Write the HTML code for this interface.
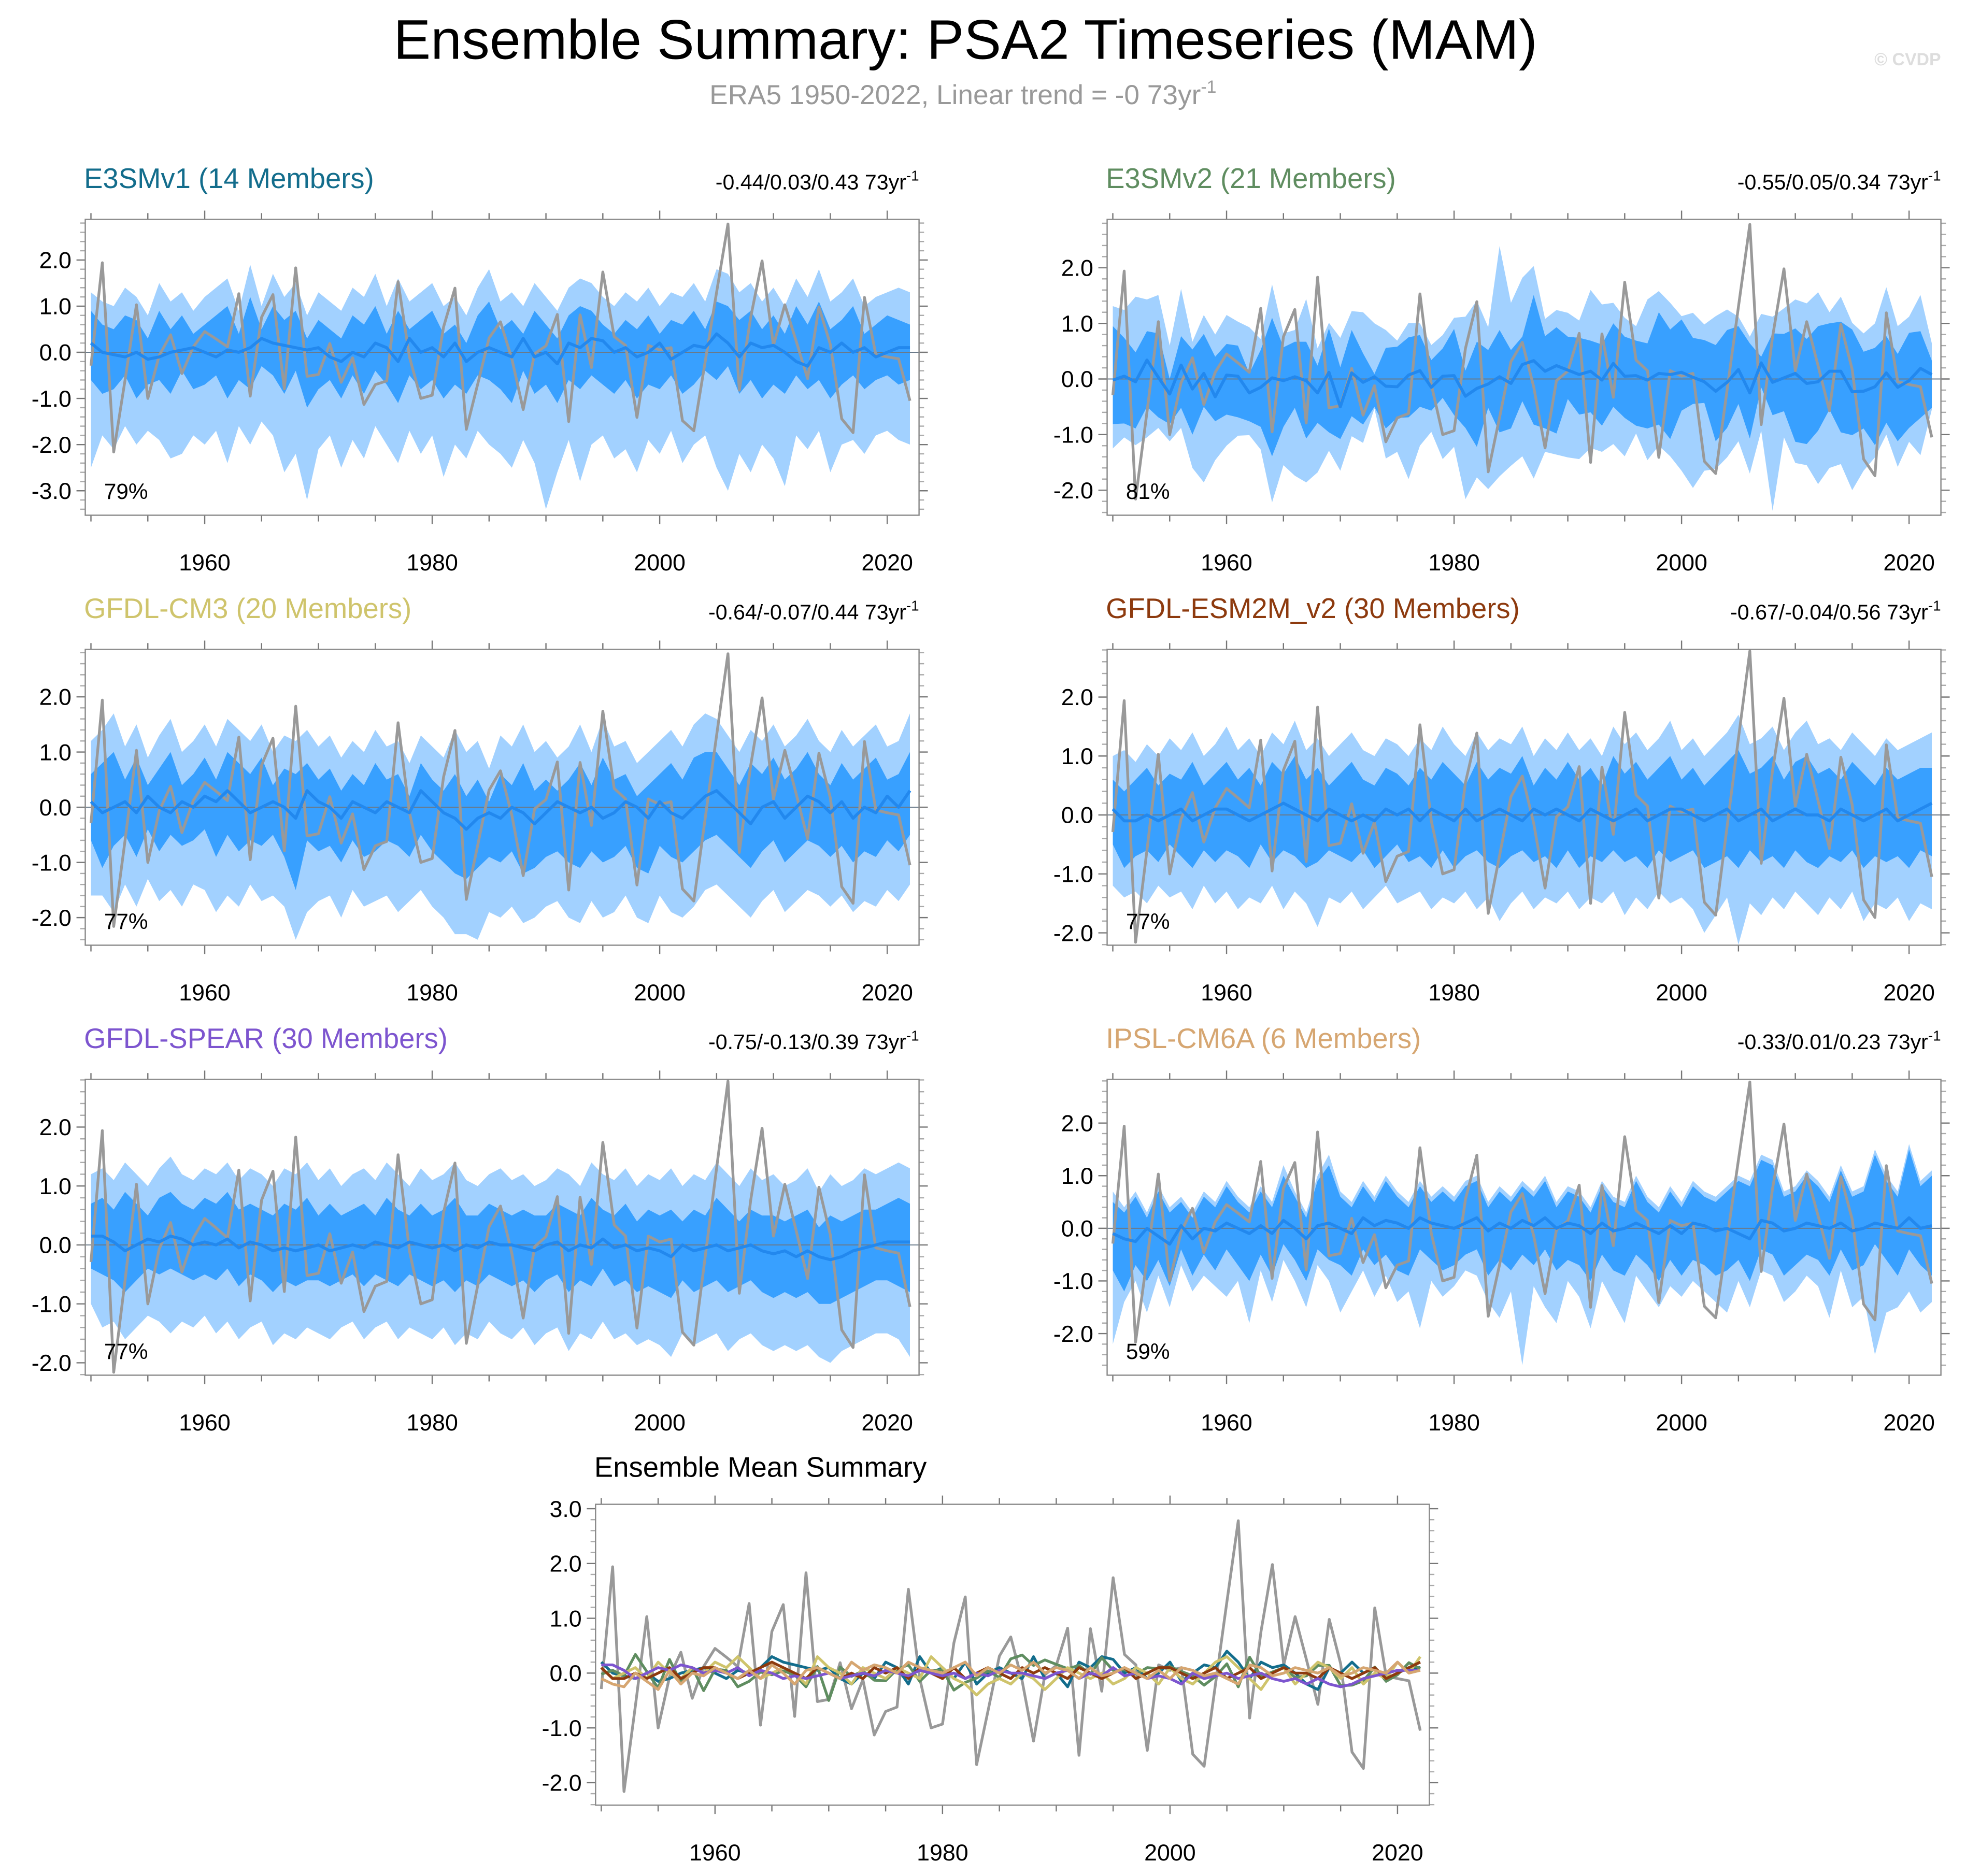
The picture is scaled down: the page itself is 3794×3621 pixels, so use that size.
<!DOCTYPE html>
<html><head><meta charset="utf-8"><title>Ensemble Summary: PSA2 Timeseries (MAM)</title>
<style>html,body{margin:0;padding:0;background:#fff;}svg{display:block;font-family:"Liberation Sans",Arial,sans-serif;}</style>
</head><body>
<svg id="chart" xmlns="http://www.w3.org/2000/svg" width="3794" height="3621" viewBox="0 0 1568 1496.5" preserveAspectRatio="none">
<rect x="0" y="0" width="1568" height="1496.5" fill="#fff"/>
<text x="770" y="47" font-size="44.5" text-anchor="middle" fill="#000">Ensemble Summary: PSA2 Timeseries (MAM)</text>
<text x="768" y="83" font-size="22" text-anchor="middle" fill="#999">ERA5 1950-2022, Linear trend = -0 73yr<tspan dy="-9" font-size="14">-1</tspan></text>
<text x="1548" y="52" font-size="14" font-weight="bold" text-anchor="end" fill="#ddd">© CVDP</text>
<g id="plots"></g>
</svg>
<script>
const years = [1950,2022];
const obs = [-0.29,1.94,-2.16,-0.6,1.03,-1.0,-0.07,0.38,-0.46,0.12,
0.45,0.29,0.12,1.27,-0.95,0.76,1.25,-0.79,1.83,-0.52,
-0.48,0.19,-0.65,-0.12,-1.13,-0.7,-0.62,1.53,-0.1,-1.0,
-0.93,0.55,1.39,-1.67,-0.69,0.31,0.66,-0.14,-1.24,-0.03,
0.14,0.82,-1.5,0.81,-0.33,1.74,0.34,0.15,-1.41,0.15,
0.05,0.1,-1.48,-1.7,-0.2,1.3,2.78,-0.82,0.76,1.98,
0.15,1.03,0.24,-0.57,0.98,0.17,-1.44,-1.74,1.19,-0.05,
-0.1,-0.14,-1.05];

// E3SMv1
const e1Mean = [0.2,0.0,-0.05,-0.1,0.0,-0.15,-0.1,0.0,0.05,0.1,
0.0,-0.1,0.05,0.0,0.1,0.3,0.2,0.15,0.1,0.05,
0.1,-0.1,-0.2,0.0,-0.1,0.2,0.1,-0.2,0.3,0.0,
0.1,-0.1,0.2,-0.2,0.0,0.1,0.0,-0.1,0.3,-0.1,
0.0,-0.25,0.2,0.1,0.3,0.25,0.0,0.1,-0.1,0.0,
0.2,-0.15,0.0,0.15,0.1,0.4,0.2,-0.1,0.2,0.1,
0.15,0.0,-0.2,-0.3,0.1,0.0,0.2,0.0,0.1,-0.1,
0.0,0.1,0.1];
const e1Hi2 = [1.3,1.1,1.0,1.4,1.2,0.8,1.5,1.1,1.3,0.9,
1.2,1.4,1.6,0.9,1.9,1.0,1.7,1.2,1.5,0.8,
1.3,1.1,0.9,1.4,1.2,1.7,1.0,1.6,1.1,1.3,
1.5,1.0,1.2,0.8,1.4,1.8,1.1,1.3,1.0,1.5,
1.2,0.9,1.4,1.6,1.5,1.2,1.0,1.3,1.1,1.4,
1.0,1.3,1.2,1.5,1.1,1.8,1.7,1.3,1.5,1.1,
1.4,1.0,1.6,1.2,1.8,1.1,1.3,1.6,1.0,1.2,
1.3,1.4,1.3];
const e1Hi1 = [0.9,0.6,0.5,0.8,0.7,0.3,0.9,0.5,0.8,0.4,
0.6,0.8,1.0,0.4,1.2,0.5,1.0,0.7,0.9,0.3,
0.7,0.5,0.3,0.8,0.6,1.0,0.4,0.9,0.5,0.7,
0.9,0.4,0.6,0.2,0.8,1.1,0.5,0.7,0.4,0.9,
0.6,0.3,0.8,1.0,0.9,0.6,0.4,0.7,0.5,0.8,
0.4,0.7,0.6,0.9,0.5,1.1,1.0,0.7,0.9,0.5,
0.8,0.4,1.0,0.6,1.1,0.5,0.7,1.0,0.4,0.6,
0.8,0.7,0.6];
const e1Lo1 = [-0.6,-0.9,-0.8,-0.5,-1.0,-0.7,-0.6,-0.9,-0.4,-0.8,
-0.7,-0.5,-1.0,-0.6,-0.8,-0.3,-0.5,-0.9,-0.4,-1.2,
-0.8,-0.6,-1.0,-0.5,-0.9,-0.4,-0.7,-1.1,-0.5,-0.8,
-0.6,-1.0,-0.7,-0.9,-0.5,-0.6,-0.8,-1.1,-0.4,-0.9,
-0.7,-1.1,-0.6,-0.8,-0.5,-0.7,-0.9,-0.6,-1.0,-0.7,
-0.8,-0.5,-0.9,-0.7,-0.4,-0.6,-0.3,-0.9,-0.6,-1.0,
-0.7,-0.9,-0.5,-0.8,-0.6,-1.0,-0.7,-0.5,-0.8,-0.6,
-0.5,-0.7,-0.6];
const e1Lo2 = [-2.5,-1.8,-2.1,-1.6,-2.0,-1.7,-1.9,-2.3,-2.2,-1.8,
-2.0,-1.7,-2.4,-1.6,-2.0,-1.5,-1.8,-2.6,-2.2,-3.2,
-2.1,-1.8,-2.5,-1.9,-2.3,-1.6,-2.0,-2.4,-1.7,-2.2,
-1.8,-2.7,-2.0,-2.3,-1.7,-2.0,-2.2,-2.5,-1.9,-2.4,
-3.4,-2.6,-1.9,-2.8,-2.0,-1.8,-2.3,-2.1,-2.6,-1.9,
-2.2,-1.7,-2.4,-2.0,-1.8,-2.5,-3.0,-2.2,-2.6,-2.0,
-2.3,-2.9,-1.8,-2.1,-1.7,-2.6,-2.0,-1.9,-2.2,-1.8,
-1.7,-1.9,-2.0];

// E3SMv2
const e2Mean = [-0.02,0.05,-0.05,0.34,0.03,-0.27,0.25,-0.18,0.1,-0.32,
0.07,0.05,-0.25,-0.15,0.02,-0.03,0.04,-0.03,-0.25,0.12,
-0.5,0.11,-0.06,0.04,-0.13,-0.14,0.07,0.15,-0.15,0.05,
0.06,-0.31,-0.17,-0.09,0.04,-0.08,0.26,0.33,0.14,0.24,
0.16,0.08,0.14,-0.02,0.28,0.05,0.06,-0.02,0.1,0.08,
0.12,0.03,-0.05,-0.22,-0.06,0.17,-0.25,0.29,-0.06,0.02,
0.1,-0.08,-0.05,0.14,0.14,-0.23,-0.22,-0.14,0.11,-0.15,
-0.03,0.19,0.08];
const e2Hi2 = [1.31,1.24,1.48,1.43,1.51,0.6,1.62,0.67,1.15,0.8,
1.15,1.03,0.93,0.72,1.7,0.82,0.88,1.44,0.55,1.01,
0.74,1.22,1.2,1.0,0.88,0.69,1.01,1.0,0.61,0.79,
1.1,1.12,1.41,0.93,2.39,1.37,1.82,2.03,1.08,1.24,
1.19,1.05,1.6,1.34,1.37,1.1,0.95,1.43,1.58,1.37,
1.13,1.19,0.98,1.13,1.25,1.12,0.76,1.17,1.12,1.27,
1.43,1.36,1.56,1.2,1.48,1.01,0.82,1.0,1.65,0.95,
1.12,1.51,0.64];
const e2Hi1 = [0.95,0.74,0.48,0.86,0.82,0.0,0.77,0.53,0.81,0.4,
0.63,0.6,0.1,0.52,1.1,0.57,0.67,0.67,0.24,0.91,
0.21,0.88,0.46,0.09,0.56,0.58,0.75,0.79,0.34,0.55,
0.9,0.15,0.67,0.52,0.88,0.52,0.76,1.51,0.77,0.93,
0.76,0.74,0.69,0.62,1.0,0.76,0.69,0.64,1.2,0.89,
1.07,0.74,0.7,0.61,0.88,0.95,0.64,0.4,0.82,0.81,
0.91,0.72,0.95,1.0,1.03,0.89,0.49,0.56,0.77,0.45,
0.83,0.86,0.33];
const e2Lo1 = [-0.81,-0.8,-0.89,-0.5,-0.69,-0.81,-0.52,-1.0,-0.5,-0.76,
-0.64,-0.69,-0.76,-0.86,-1.39,-0.86,-0.52,-1.07,-0.79,-0.96,
-1.08,-0.67,-0.82,-0.5,-0.89,-0.7,-0.69,-0.5,-0.57,-0.34,
-0.65,-0.88,-1.22,-0.52,-0.96,-0.89,-0.4,-0.82,-0.89,-0.98,
-0.36,-0.64,-0.6,-0.84,-0.5,-0.7,-0.84,-0.89,-0.82,-1.08,
-0.57,-0.45,-0.43,-1.12,-0.88,-0.45,-1.07,-0.15,-0.65,-0.58,
-1.13,-1.17,-0.93,-0.55,-0.96,-1.01,-0.89,-1.19,-0.79,-1.12,
-0.88,-0.7,-0.52];
const e2Lo2 = [-1.25,-1.05,-1.19,-1.05,-0.88,-1.12,-0.88,-1.6,-1.86,-1.46,
-1.2,-1.02,-1.01,-1.27,-2.22,-1.55,-1.74,-1.86,-1.68,-1.29,
-1.65,-1.03,-1.15,-0.53,-1.43,-1.31,-1.8,-1.2,-0.95,-1.44,
-1.22,-2.16,-1.77,-1.98,-1.75,-1.56,-1.39,-1.79,-1.31,-1.36,
-1.41,-1.44,-1.24,-1.31,-1.17,-1.39,-0.98,-1.46,-1.2,-1.39,
-1.65,-1.96,-1.65,-1.62,-1.41,-1.12,-1.7,-0.93,-2.37,-1.05,
-1.51,-1.55,-1.89,-1.6,-1.53,-2.0,-1.65,-1.41,-1.0,-1.58,
-1.13,-1.37,-0.55];

// GFDL-CM3
const c3Mean = [0.1,-0.1,0.0,0.1,-0.1,0.2,0.0,-0.1,0.1,0.0,
0.2,0.1,0.3,0.1,-0.1,0.0,0.1,0.0,-0.2,0.3,
0.1,0.0,-0.2,0.1,0.0,-0.1,0.1,0.0,-0.1,0.3,
0.1,-0.1,-0.2,-0.4,-0.2,-0.1,-0.2,0.0,-0.1,-0.3,
-0.1,0.1,0.0,-0.1,0.0,-0.2,-0.1,0.1,0.0,-0.2,
0.1,-0.1,-0.2,0.0,0.2,0.3,0.1,-0.1,-0.3,0.0,
0.1,-0.2,0.0,0.2,0.1,-0.1,0.1,-0.2,0.0,-0.1,
0.2,0.0,0.3];
const c3Hi2 = [1.2,1.4,1.7,1.1,1.5,0.9,1.3,1.6,1.0,1.2,
1.5,1.1,1.6,1.4,1.2,1.5,1.0,1.3,1.2,1.4,
1.1,1.3,0.9,1.2,1.0,1.4,1.1,1.2,0.8,1.3,
1.1,0.9,1.4,1.0,1.2,0.7,1.3,1.1,1.5,1.0,
1.2,0.9,1.1,1.5,1.0,1.6,1.1,1.2,0.8,1.0,
1.2,1.4,1.1,1.5,1.7,1.6,1.3,1.0,1.4,1.2,
1.5,1.1,1.3,1.6,1.2,1.0,1.4,1.1,1.3,1.5,
1.1,1.2,1.7];
const c3Hi1 = [0.6,0.8,1.0,0.5,0.9,0.4,0.7,1.0,0.4,0.6,
0.9,0.5,1.0,0.8,0.6,0.9,0.4,0.7,0.6,0.8,
0.5,0.7,0.3,0.6,0.4,0.8,0.5,0.6,0.2,0.8,
0.5,0.3,0.6,0.2,0.5,0.1,0.6,0.4,0.8,0.3,
0.5,0.3,0.5,0.8,0.4,0.9,0.5,0.6,0.2,0.4,
0.6,0.8,0.5,0.9,1.0,1.0,0.7,0.4,0.8,0.6,
0.9,0.5,0.7,1.0,0.6,0.4,0.8,0.5,0.7,0.9,
0.5,0.6,1.0];
const c3Lo1 = [-0.6,-1.1,-0.7,-0.5,-0.9,-0.4,-0.8,-0.5,-0.7,-0.6,
-0.4,-0.9,-0.5,-0.8,-0.6,-0.7,-0.5,-0.9,-1.5,-0.6,
-0.8,-0.7,-1.0,-0.6,-0.9,-0.8,-0.6,-0.7,-0.9,-0.5,
-0.8,-1.0,-1.2,-1.3,-1.1,-0.9,-1.0,-0.8,-1.2,-1.1,
-0.9,-0.8,-1.0,-1.1,-0.8,-1.0,-0.9,-0.7,-1.1,-1.2,
-0.7,-0.9,-1.0,-0.8,-0.6,-0.5,-0.7,-0.9,-1.1,-0.8,
-0.6,-1.0,-0.8,-0.6,-0.7,-0.9,-0.7,-1.0,-0.8,-0.9,
-0.6,-0.8,-0.5];
const c3Lo2 = [-1.6,-1.6,-1.9,-1.4,-1.8,-1.3,-1.7,-1.5,-1.8,-1.4,
-1.5,-1.9,-1.6,-1.8,-1.4,-1.7,-1.6,-1.8,-2.4,-1.9,
-1.7,-1.6,-2.0,-1.5,-1.8,-1.7,-1.6,-1.9,-1.7,-1.5,
-1.8,-2.0,-2.3,-2.3,-2.4,-1.9,-2.0,-1.8,-2.1,-2.0,
-1.8,-1.7,-2.0,-2.1,-1.7,-2.0,-1.9,-1.6,-2.0,-2.1,
-1.6,-1.9,-2.0,-1.8,-1.5,-1.4,-1.6,-1.8,-2.0,-1.7,
-1.5,-1.9,-1.7,-1.5,-1.6,-1.8,-1.6,-1.9,-1.7,-1.8,
-1.5,-1.7,-1.4];

// GFDL-ESM2M_v2
const m2Mean = [0.1,-0.1,-0.1,0.0,-0.1,0.0,0.1,-0.1,0.0,0.1,
0.1,0.0,-0.1,0.0,0.1,0.2,0.1,0.0,-0.1,0.1,
0.0,-0.1,0.0,-0.1,0.1,0.0,0.1,-0.1,0.1,0.0,
-0.1,0.1,-0.1,0.0,0.1,0.0,-0.1,0.1,0.0,0.1,
0.0,-0.1,0.1,0.0,-0.1,0.0,0.1,-0.1,0.0,0.1,
0.1,0.0,-0.1,0.0,0.1,-0.1,0.0,0.1,-0.1,0.0,
0.1,0.0,0.0,-0.1,0.1,0.0,-0.1,0.0,0.1,-0.1,
0.0,0.1,0.2];
const m2Hi2 = [1.0,1.1,0.9,1.2,1.0,1.3,1.1,1.4,1.0,1.2,
1.5,1.1,1.3,1.0,1.4,1.2,1.6,1.1,1.3,1.0,
1.2,1.4,1.1,1.0,1.3,1.2,1.0,1.3,1.1,1.5,
1.2,1.0,1.4,1.1,1.3,1.2,1.5,1.0,1.3,1.1,
1.4,1.1,1.3,1.0,1.5,1.2,1.4,1.1,1.3,1.6,
1.1,1.3,1.0,1.2,1.4,1.7,1.2,1.3,1.5,1.1,
1.4,1.6,1.2,1.3,1.1,1.4,1.2,1.0,1.3,1.1,
1.2,1.3,1.4];
const m2Hi1 = [0.6,0.4,0.6,0.8,0.5,0.7,0.6,0.9,0.5,0.7,
0.9,0.6,0.8,0.5,0.9,0.7,1.0,0.6,0.8,0.5,
0.7,0.9,0.6,0.5,0.8,0.7,0.5,0.8,0.6,0.9,
0.7,0.5,0.9,0.6,0.8,0.7,1.0,0.5,0.8,0.6,
0.9,0.6,0.8,0.5,1.0,0.7,0.9,0.6,0.8,1.0,
0.6,0.8,0.5,0.7,0.9,1.1,0.7,0.8,1.0,0.6,
0.9,1.0,0.7,0.8,0.6,0.9,0.7,0.5,0.8,0.6,
0.7,0.8,0.8];
const m2Lo1 = [-0.5,-0.9,-0.7,-0.6,-0.8,-0.5,-0.7,-0.9,-0.6,-0.8,
-0.6,-0.7,-0.9,-0.5,-0.8,-0.6,-0.7,-0.9,-0.8,-0.6,
-0.7,-0.8,-0.6,-0.9,-0.7,-0.5,-0.8,-0.7,-0.9,-0.6,
-0.9,-0.7,-0.6,-0.8,-0.9,-0.7,-0.6,-0.8,-0.7,-0.9,
-0.6,-0.9,-0.7,-0.8,-0.6,-0.8,-0.7,-0.9,-0.6,-0.8,
-0.7,-0.6,-0.9,-0.8,-0.7,-0.9,-0.6,-0.8,-0.7,-0.9,
-0.6,-0.8,-0.9,-0.7,-0.8,-0.6,-0.9,-0.7,-0.8,-0.7,
-0.9,-0.6,-0.7];
const m2Lo2 = [-1.2,-1.4,-1.3,-1.5,-1.2,-1.4,-1.3,-1.6,-1.2,-1.5,
-1.3,-1.6,-1.4,-1.5,-1.2,-1.6,-1.3,-1.5,-1.9,-1.4,
-1.5,-1.3,-1.6,-1.4,-1.2,-1.5,-1.4,-1.3,-1.6,-1.4,
-1.5,-1.3,-1.6,-1.4,-1.8,-1.5,-1.3,-1.6,-1.4,-1.5,
-1.3,-1.6,-1.4,-1.5,-1.3,-1.7,-1.4,-1.6,-1.3,-1.5,
-1.4,-1.6,-2.0,-1.7,-1.4,-2.2,-1.5,-1.7,-1.4,-1.6,
-1.3,-1.5,-1.7,-1.4,-1.6,-1.3,-1.8,-1.5,-1.6,-1.4,
-1.8,-1.5,-1.6];

// GFDL-SPEAR
const spMean = [0.15,0.15,0.05,-0.1,0.0,0.1,0.05,0.15,0.1,0.0,
0.05,0.0,0.1,-0.05,0.05,0.0,-0.1,-0.05,-0.1,-0.05,
0.0,-0.1,-0.05,0.0,-0.05,0.05,0.0,-0.05,0.05,0.0,
-0.05,0.0,-0.1,0.0,-0.05,0.05,0.0,0.0,-0.05,-0.1,
0.0,0.05,-0.1,0.0,-0.05,0.1,-0.05,0.0,-0.1,-0.05,
-0.1,-0.2,0.0,-0.1,-0.05,0.0,-0.1,-0.05,0.0,-0.1,
-0.15,-0.1,-0.2,-0.1,-0.2,-0.25,-0.2,-0.1,-0.05,0.0,
0.05,0.05,0.05];
const spHi2 = [1.2,1.3,1.1,1.4,1.2,1.0,1.3,1.5,1.2,1.1,
1.3,1.2,1.4,1.1,1.3,1.2,1.0,1.3,1.2,1.4,
1.1,1.3,1.0,1.2,1.3,1.1,1.4,1.2,1.0,1.3,
1.1,1.2,1.4,1.1,1.0,1.2,1.3,1.1,1.2,1.0,
1.1,1.3,1.2,1.0,1.4,1.2,1.1,1.3,1.0,1.2,
1.1,1.3,1.0,1.2,1.1,1.4,1.2,1.0,1.3,1.1,
1.2,1.0,1.1,1.3,0.9,1.2,1.0,1.1,1.3,1.2,
1.3,1.4,1.3];
const spHi1 = [0.7,0.8,0.6,0.9,0.7,0.5,0.8,0.9,0.7,0.6,
0.8,0.7,0.9,0.6,0.7,0.6,0.5,0.7,0.6,0.8,
0.5,0.7,0.5,0.6,0.7,0.5,0.8,0.6,0.5,0.7,
0.5,0.6,0.8,0.5,0.5,0.7,0.6,0.5,0.6,0.5,
0.5,0.7,0.6,0.5,0.8,0.6,0.5,0.7,0.4,0.6,
0.5,0.6,0.4,0.6,0.5,0.8,0.6,0.4,0.6,0.5,
0.5,0.4,0.5,0.6,0.3,0.5,0.4,0.5,0.6,0.6,
0.7,0.8,0.7];
const spLo1 = [-0.4,-0.5,-0.6,-0.8,-0.6,-0.4,-0.5,-0.4,-0.5,-0.6,
-0.5,-0.6,-0.4,-0.7,-0.5,-0.6,-0.8,-0.6,-0.7,-0.6,
-0.6,-0.7,-0.6,-0.5,-0.7,-0.5,-0.6,-0.7,-0.5,-0.6,
-0.7,-0.6,-0.8,-0.6,-0.7,-0.5,-0.6,-0.7,-0.6,-0.8,
-0.6,-0.5,-0.8,-0.6,-0.7,-0.4,-0.7,-0.6,-0.8,-0.7,
-0.8,-0.9,-0.6,-0.8,-0.7,-0.6,-0.8,-0.7,-0.6,-0.8,
-0.9,-0.8,-0.9,-0.8,-1.0,-1.0,-0.9,-0.8,-0.7,-0.6,
-0.6,-0.7,-0.8];
const spLo2 = [-1.0,-1.4,-1.3,-1.6,-1.4,-1.2,-1.3,-1.5,-1.3,-1.4,
-1.2,-1.5,-1.3,-1.6,-1.4,-1.3,-1.7,-1.5,-1.6,-1.4,
-1.5,-1.6,-1.4,-1.3,-1.6,-1.4,-1.3,-1.6,-1.4,-1.5,
-1.6,-1.4,-1.7,-1.5,-1.6,-1.3,-1.5,-1.6,-1.4,-1.7,
-1.5,-1.4,-1.8,-1.5,-1.6,-1.3,-1.6,-1.5,-1.7,-1.6,
-1.7,-1.9,-1.5,-1.7,-1.6,-1.5,-1.8,-1.6,-1.5,-1.7,
-1.8,-1.7,-1.8,-1.7,-1.9,-2.0,-1.8,-1.7,-1.6,-1.5,
-1.5,-1.6,-1.9];

// IPSL-CM6A
const ipMean = [-0.1,-0.2,-0.25,0.0,-0.15,-0.3,0.05,-0.2,0.0,-0.05,
0.1,0.0,-0.1,0.05,-0.1,0.15,0.0,-0.2,0.05,0.1,
0.0,-0.1,0.2,0.05,0.15,0.1,0.0,0.2,0.1,0.05,
0.0,0.1,0.2,-0.05,0.1,0.0,0.15,0.05,0.2,0.0,
0.1,0.05,-0.1,0.1,-0.05,0.0,0.1,0.0,-0.1,0.05,
-0.1,0.1,0.05,-0.05,0.0,-0.1,-0.2,0.15,0.1,-0.05,
0.0,0.1,0.05,0.0,0.1,-0.05,0.0,0.1,0.05,0.0,
0.2,0.0,0.05];
const ipHi2 = [0.7,0.4,0.7,0.3,0.8,0.4,0.6,0.3,0.7,0.5,
0.9,0.6,0.4,0.8,0.5,1.2,0.7,0.3,1.0,1.4,
0.7,0.5,0.9,0.6,1.0,0.7,0.5,0.9,0.6,0.8,
0.6,0.9,1.0,0.5,0.8,0.6,0.9,0.7,1.0,0.5,
0.8,0.7,0.4,0.9,0.6,0.5,1.0,0.6,0.4,0.8,
0.5,0.9,0.7,0.6,0.8,1.0,0.9,1.4,1.3,0.7,
0.8,1.1,0.9,0.6,1.2,0.7,0.8,1.5,1.0,0.7,
1.6,0.9,1.1];
const ipHi1 = [0.5,0.3,0.6,0.2,0.7,0.3,0.5,0.2,0.6,0.4,
0.8,0.5,0.3,0.7,0.4,1.0,0.6,0.2,0.9,1.2,
0.6,0.4,0.8,0.5,0.9,0.6,0.4,0.8,0.5,0.7,
0.5,0.8,0.9,0.4,0.7,0.5,0.8,0.6,0.9,0.4,
0.7,0.6,0.3,0.8,0.5,0.4,0.9,0.5,0.3,0.7,
0.4,0.8,0.6,0.5,0.7,0.9,0.8,1.3,1.2,0.6,
0.7,1.0,0.8,0.5,1.1,0.6,0.7,1.4,0.9,0.6,
1.5,0.8,1.0];
const ipLo1 = [-0.8,-1.2,-0.7,-1.0,-0.6,-1.1,-0.4,-0.9,-0.5,-0.8,
-0.4,-0.7,-1.0,-0.5,-0.9,-0.3,-0.6,-1.0,-0.4,-0.6,
-0.7,-0.9,-0.4,-0.7,-0.5,-0.8,-0.9,-0.4,-0.6,-0.8,
-0.7,-0.5,-0.4,-0.9,-0.6,-0.8,-0.5,-0.7,-0.4,-0.8,
-0.6,-0.7,-1.0,-0.5,-0.8,-0.9,-0.5,-0.7,-1.0,-0.6,
-0.9,-0.6,-0.7,-0.9,-0.8,-0.6,-1.0,-0.4,-0.5,-0.9,
-0.7,-0.5,-0.6,-0.9,-0.4,-0.8,-0.7,-0.3,-0.6,-0.9,
-0.4,-0.7,-0.9];
const ipLo2 = [-2.2,-1.4,-1.0,-1.6,-0.9,-1.5,-0.7,-1.2,-0.9,-1.1,
-1.3,-1.0,-1.8,-0.8,-1.4,-0.6,-1.0,-1.5,-0.7,-1.0,
-1.6,-1.2,-0.8,-1.3,-0.9,-1.4,-1.2,-1.9,-1.0,-1.3,
-1.1,-0.8,-0.9,-1.4,-1.7,-1.2,-2.6,-1.1,-1.5,-1.8,
-1.0,-1.3,-1.9,-1.0,-1.4,-1.8,-0.9,-1.2,-1.5,-1.1,
-1.3,-1.0,-1.2,-1.4,-1.6,-1.0,-1.5,-0.8,-0.9,-1.4,
-1.2,-0.9,-1.1,-1.7,-0.8,-1.5,-1.3,-2.4,-1.6,-1.5,
-1.2,-1.6,-1.4];

const modelNames = ["E3SMv1 (14 Members)","E3SMv2 (21 Members)","GFDL-CM3 (20 Members)","GFDL-ESM2M_v2 (30 Members)","GFDL-SPEAR (30 Members)","IPSL-CM6A (6 Members)"];
const trendLabels = ["-0.44/0.03/0.43 73yr","-0.55/0.05/0.34 73yr","-0.64/-0.07/0.44 73yr","-0.67/-0.04/0.56 73yr","-0.75/-0.13/0.39 73yr","-0.33/0.01/0.23 73yr"];
const pctLabels = ["79%","81%","77%","77%","77%","59%"];
const xTickLabels = [1960,1980,2000,2020];
const yTicksA = [2.0,1.0,0.0,-1.0,-2.0,-3.0];
const yTicksB = [2.0,1.0,0.0,-1.0,-2.0];
const yTicksC = [3.0,2.0,1.0,0.0,-1.0,-2.0];

const NS = "http://www.w3.org/2000/svg";
const root = document.getElementById("plots");
function mk(tag, attrs, parent){ const e=document.createElementNS(NS,tag); for(const k in attrs) e.setAttribute(k,attrs[k]); (parent||root).appendChild(e); return e; }

const XMIN=1949.5, XMAX=2022.8;
const colors = ["#136d8c","#5f8d60","#cfc46c","#8d3a0e","#7d55cf","#d6a671"];

const panels = [
 {x:68,y:175,ymin:-3.53,ymax:2.88,ticks:yTicksA,mean:e1Mean,hi2:e1Hi2,hi1:e1Hi1,lo1:e1Lo1,lo2:e1Lo2,slug:"e3smv1"},
 {x:883,y:175,ymin:-2.45,ymax:2.87,ticks:yTicksB,mean:e2Mean,hi2:e2Hi2,hi1:e2Hi1,lo1:e2Lo1,lo2:e2Lo2,slug:"e3smv2"},
 {x:68,y:518,ymin:-2.5,ymax:2.86,ticks:yTicksB,mean:c3Mean,hi2:c3Hi2,hi1:c3Hi1,lo1:c3Lo1,lo2:c3Lo2,slug:"gfdl-cm3"},
 {x:883,y:518,ymin:-2.21,ymax:2.81,ticks:yTicksB,mean:m2Mean,hi2:m2Hi2,hi1:m2Hi1,lo1:m2Lo1,lo2:m2Lo2,slug:"gfdl-esm2m"},
 {x:68,y:861,ymin:-2.21,ymax:2.81,ticks:yTicksB,mean:spMean,hi2:spHi2,hi1:spHi1,lo1:spLo1,lo2:spLo2,slug:"gfdl-spear"},
 {x:883,y:861,ymin:-2.79,ymax:2.83,ticks:yTicksB,mean:ipMean,hi2:ipHi2,hi1:ipHi1,lo1:ipLo1,lo2:ipLo2,slug:"ipsl-cm6a"}
];
const W=665,H=236;

function axes(g, x0,y0,w,h,ymin,ymax,ticks,slug){
  const sx = v => x0 + (v-XMIN)/(XMAX-XMIN)*w;
  const sy = v => y0 + (ymax-v)/(ymax-ymin)*h;
  for(let v=Math.ceil(ymin*5)/5; v<=ymax+1e-6; v+=0.2){
    const yy=sy(v); const major=Math.abs(v-Math.round(v))<1e-6;
    const L = major?7:4;
    mk("line",{x1:x0-L,x2:x0,y1:yy,y2:yy,stroke:major?"#777":"#aaa","stroke-width":1},g);
    mk("line",{x1:x0+w,x2:x0+w+L,y1:yy,y2:yy,stroke:major?"#777":"#aaa","stroke-width":1},g);
  }
  for(let yr=1950; yr<=2020; yr+=5){
    const xx=sx(yr); const major=(yr%20===0);
    const L=major?7:5;
    mk("line",{x1:xx,x2:xx,y1:y0+h,y2:y0+h+L,stroke:"#777","stroke-width":1},g);
    mk("line",{x1:xx,x2:xx,y1:y0-L,y2:y0,stroke:"#777","stroke-width":1},g);
  }
  ticks.forEach(v=>{
    const t=mk("text",{x:x0-11,y:sy(v)+6.5,"font-size":18.5,"text-anchor":"end",fill:"#000"},g);
    
    
    t.textContent=v.toFixed(1);
  });
  xTickLabels.forEach(v=>{
    const t=mk("text",{x:sx(v),y:y0+h+44,"font-size":18.5,"text-anchor":"middle",fill:"#000"},g);
    
    
    t.textContent=v;
  });
  return {sx,sy};
}

function linePts(arr,sx,sy){ return arr.map((v,i)=>sx(years[0]+i).toFixed(2)+","+sy(v).toFixed(2)).join(" "); }
function bandPts(up,lo,sx,sy){
  const a=up.map((v,i)=>sx(years[0]+i).toFixed(2)+","+sy(v).toFixed(2));
  const b=lo.map((v,i)=>sx(years[0]+i).toFixed(2)+","+sy(v).toFixed(2)).reverse();
  return a.concat(b).join(" ");
}

panels.forEach((p,k)=>{
  const g=mk("g",{});
  
  
  const {sx,sy}=axes(g,p.x,p.y,W,H,p.ymin,p.ymax,p.ticks,p.slug);
  const clipId="clip"+k;
  const cp=mk("clipPath",{id:clipId},g); mk("rect",{x:p.x,y:p.y,width:W,height:H},cp);
  const inner=mk("g",{"clip-path":"url(#"+clipId+")"},g);
  const b2=mk("polygon",{points:bandPts(p.hi2,p.lo2,sx,sy),fill:"#a2d1ff",stroke:"none"},inner);
  
  
  const b1=mk("polygon",{points:bandPts(p.hi1,p.lo1,sx,sy),fill:"#38a0ff",stroke:"none"},inner);
  
  
  const z=mk("line",{x1:p.x,x2:p.x+W,y1:sy(0),y2:sy(0),stroke:"#6a7a8a","stroke-width":0.8},inner);
  
  
  const ob=mk("polyline",{points:linePts(obs,sx,sy),fill:"none",stroke:"#999","stroke-width":2.2,"stroke-linejoin":"round"},inner);
  
  
  const ml=mk("polyline",{points:linePts(p.mean,sx,sy),fill:"none",stroke:"#2288ee","stroke-width":2.4,"stroke-linejoin":"round"},inner);
  
  
  const bx=mk("rect",{x:p.x,y:p.y,width:W,height:H,fill:"none",stroke:"#888","stroke-width":1},g);
  
  
  const tt=mk("text",{x:p.x-1,y:p.y-25,"font-size":22.5,fill:colors[k]},g);
  
  
  tt.textContent=modelNames[k];
  const tr=mk("text",{x:p.x+W,y:p.y-24,"font-size":17,"text-anchor":"end",fill:"#000"},g);
  
  
  tr.textContent=trendLabels[k];
  const sup=mk("tspan",{dy:-7,"font-size":11.5},tr); sup.textContent="-1";
  const pc=mk("text",{x:p.x+15,y:p.y+H-13,"font-size":17.5,fill:"#000"},g);
  
  
  pc.textContent=pctLabels[k];
});

(function(){
  const x0=475,y0=1200,w=665,h=240,ymin=-2.41,ymax=3.08;
  const g=mk("g",{});
  
  
  const {sx,sy}=axes(g,x0,y0,w,h,ymin,ymax,yTicksC,"summary");
  const cp=mk("clipPath",{id:"clip7"},g); mk("rect",{x:x0,y:y0,width:w,height:h},cp);
  const inner=mk("g",{"clip-path":"url(#clip7)"},g);
  const ob=mk("polyline",{points:linePts(obs,sx,sy),fill:"none",stroke:"#999","stroke-width":2.2,"stroke-linejoin":"round"},inner);
  
  
  panels.forEach((p,k)=>{
    const l=mk("polyline",{points:linePts(p.mean,sx,sy),fill:"none",stroke:colors[k],"stroke-width":2.2,"stroke-linejoin":"round"},inner);
    
    
  });
  const bx=mk("rect",{x:x0,y:y0,width:w,height:h,fill:"none",stroke:"#888","stroke-width":1},g);
  
  
  const t=mk("text",{x:474,y:1178,"font-size":22.5,fill:"#000"},g);
  
  
  t.textContent="Ensemble Mean Summary";
})();
</script>
</body></html>
